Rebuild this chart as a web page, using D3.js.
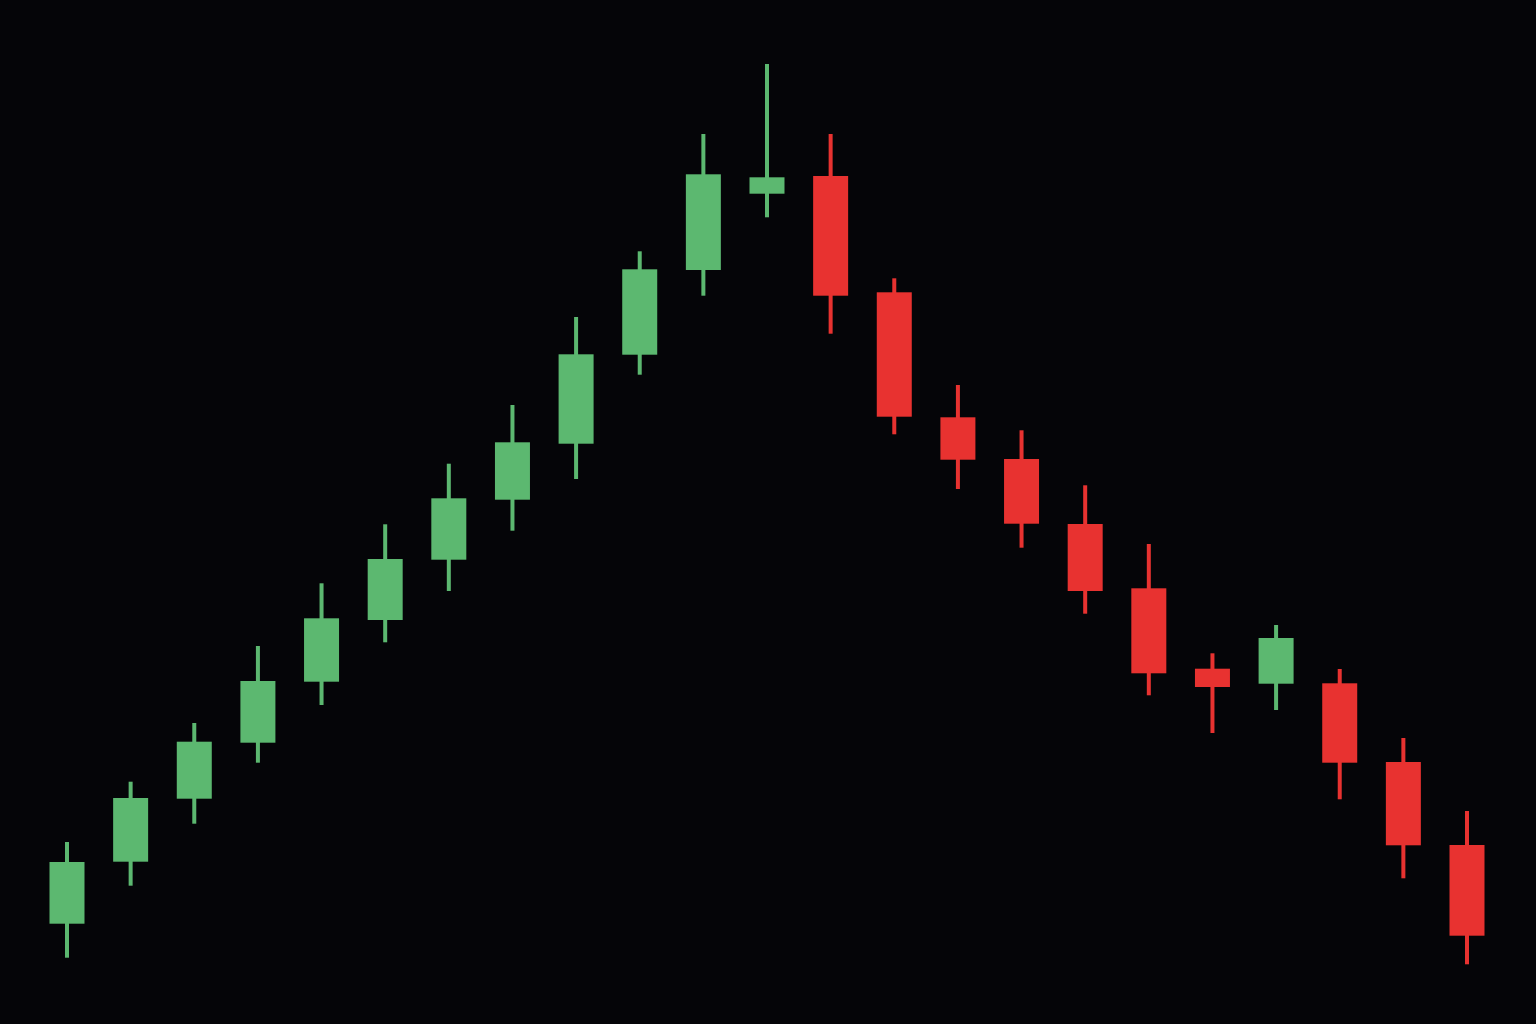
<!DOCTYPE html>
<html>
<head>
<meta charset="utf-8">
<script src="https://cdn.jsdelivr.net/npm/d3@7"></script>
<style>
  html, body { margin: 0; padding: 0; background: #050508; }
  svg { display: block; }
</style>
</head>
<body>
<svg id="chart" width="1536" height="1024"></svg>
<script>
const periods = d3.range(1, 24);
const opens  = [10.03, 16.23, 22.53, 28.13, 34.23, 40.40, 46.43, 52.43, 58.03, 66.93, 75.40, 83.03, 84.80, 73.17, 60.67, 56.50, 50.00, 43.57, 35.53, 34.03, 34.07, 26.20, 17.90];
const highs  = [18.20, 24.23, 30.10, 37.80, 44.07, 49.97, 56.03, 61.90, 70.70, 77.27, 89.00, 96.00, 89.00, 74.57, 63.90, 59.37, 53.87, 48.00, 37.07, 39.90, 35.50, 28.60, 21.30];
const lows   = [ 6.63, 13.83, 20.03, 26.13, 31.90, 38.17, 43.30, 49.33, 54.50, 64.93, 72.83, 80.67, 69.03, 58.97, 53.50, 47.63, 41.03, 32.87, 29.10, 31.40, 22.47, 14.57,  5.97];
const closes = [16.20, 22.60, 28.23, 34.30, 40.57, 46.50, 52.57, 58.17, 66.97, 75.47, 84.97, 84.67, 72.83, 60.73, 56.43, 50.03, 43.30, 35.07, 33.70, 38.60, 26.13, 17.87,  8.83];

const W = 1536, H = 1024;
const upColor = "#5cb870", downColor = "#e83230";

const data = periods.map((p, i) => ({ p, o: opens[i], h: highs[i], l: lows[i], c: closes[i] }));

const x = d3.scalePoint().domain(periods).range([67, 1467]);
const y = d3.scaleLinear().domain([0, 102.4]).range([H, 0]);
const bodyW = 35, wickW = 4;

const svg = d3.select("#chart");
svg.append("rect").attr("width", W).attr("height", H).attr("fill", "#050508");

const g = svg.append("g");
const candle = g.selectAll("g.candle").data(data).join("g").attr("class", "candle");

candle.append("rect")
  .attr("x", d => x(d.p) - wickW / 2)
  .attr("width", wickW)
  .attr("y", d => y(d.h))
  .attr("height", d => y(d.l) - y(d.h))
  .attr("fill", d => d.c >= d.o ? upColor : downColor);

candle.append("rect")
  .attr("x", d => x(d.p) - bodyW / 2)
  .attr("width", bodyW)
  .attr("y", d => y(Math.max(d.o, d.c)))
  .attr("height", d => Math.max(1, Math.abs(y(d.o) - y(d.c))))
  .attr("fill", d => d.c >= d.o ? upColor : downColor);
</script>
</body>
</html>
